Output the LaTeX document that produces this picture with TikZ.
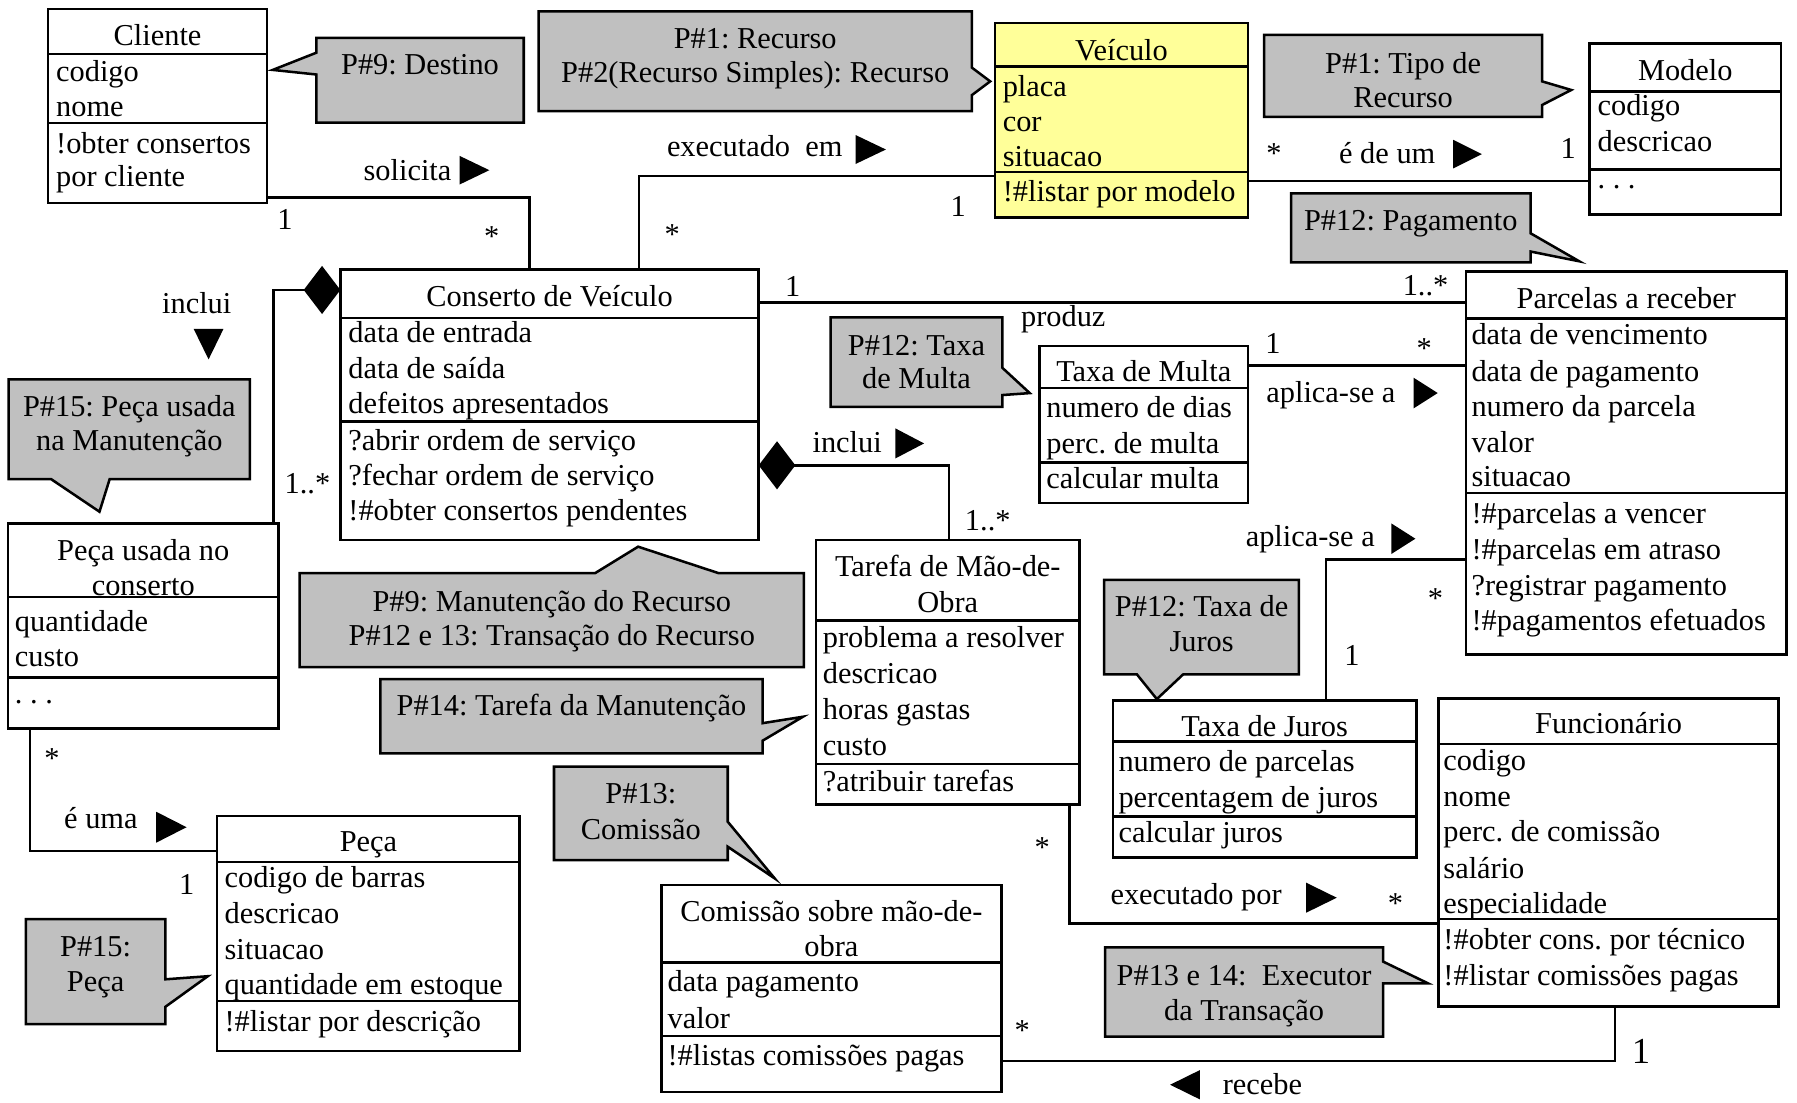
\documentclass[tikz,border=0pt]{standalone}
\usepackage{fontspec}
\setmainfont{Liberation Serif}
\usetikzlibrary{arrows.meta,calc}
\definecolor{notegray}{HTML}{C0C0C0}
\definecolor{classyellow}{HTML}{FFFF99}
\frenchspacing
\newcounter{lbln}
% one line of text, anchored on its baseline
\newcommand\tx[4][base west]{\stepcounter{lbln}\node[lbl,anchor=#1] (lbl\arabic{lbln}) at (#2,#3) {#4};}
% class box: options, name, left, top, width, height, divider 1, divider 2
\newcommand\umlclass[8][]{%
  \node[box,minimum width=#5pt,minimum height=#6pt,#1] (#2) at (#3,#4) {};
  \draw[rule] (#3,#7) -- ++(#5,0);
  \draw[rule] (#3,#8) -- ++(#5,0);
}
% direction markers of the association names: left, top, width, height
\newcommand\rtri[4]{\fill (#1,#2) -- (#1+#3,#2+#4/2) -- (#1,#2+#4) -- cycle;}
\newcommand\ltri[4]{\fill (#1+#3,#2) -- (#1,#2+#4/2) -- (#1+#3,#2+#4) -- cycle;}
\newcommand\dtri[4]{\fill (#1,#2) -- (#1+#3,#2) -- (#1+#3/2,#2+#4) -- cycle;}
\begin{document}
\begin{tikzpicture}[x=1pt,y=-1pt,
  box/.style={draw,line width=2.2pt,fill=white,inner sep=0pt,outer sep=0pt,anchor=north west},
  rule/.style={line width=2.2pt},
  link/.style={line width=2.2pt},
  agg/.style={link,{Diamond[length=32pt,width=42pt]}-},
  note/.style={draw,fill=notegray,line width=2.2pt,line join=miter},
  lbl/.style={inner sep=0pt,outer sep=0pt,yshift=-1.5pt,font=\fontsize{26.5}{31}\selectfont},
  biglbl/.style={lbl,font=\fontsize{32}{36}\selectfont},
]
\useasboundingbox (0,0) rectangle (1568,962);

% ---------- classes ----------
\umlclass{cliente}{42}{8}{191}{169}{47}{107.5}
\umlclass[fill=classyellow]{veiculo}{868}{20}{221}{170}{58}{150}
\umlclass{modelo}{1387}{38}{167}{149}{80}{148}
\umlclass{conserto}{297}{235}{365}{236}{277.5}{368}
\umlclass{parcelas}{1279}{237}{280}{334}{278}{430}
\umlclass{multa}{907}{302}{182}{137}{338.7}{403.7}
\umlclass{tarefa}{712}{471}{230}{231}{541.6}{666.7}
\umlclass{pecausada}{7}{457}{236}{178.5}{521}{591}
\umlclass{peca}{189.5}{712}{264}{205}{752}{873.5}
\umlclass{comissao}{577}{772}{297}{181}{840}{904}
\umlclass{juros}{971}{611}{265}{137}{647}{712.6}
\umlclass{func}{1255.3}{609.4}{296.7}{268.6}{649}{802}

% ---------- associations ----------
\draw[link] ($(cliente.north east)+(0,164.5)$) -| ($(conserto.north west)+(165,0)$);
\draw[link] ($(conserto.north west)+(260.6,0)$) |- ($(veiculo.north west)+(0,133.6)$);
\draw[link] ($(veiculo.north east)+(0,138)$) -- ($(modelo.north west)+(0,120)$);
\draw[link] ($(conserto.north east)+(0,29)$) -- ($(parcelas.north west)+(0,27)$);
\draw[link] ($(multa.north east)+(0,17)$) -- ($(parcelas.north west)+(0,82)$);
\draw[link] ($(juros.north west)+(186,0)$) |- ($(parcelas.north west)+(0,251)$);
\draw[agg] ($(conserto.north east)+(0,171)$) -| ($(tarefa.north west)+(116,0)$);
\draw[agg] ($(conserto.north west)+(0,18)$) -| ($(pecausada.north west)+(231.6,0)$);
\draw[link] ($(pecausada.south west)+(19,0)$) |- ($(peca.north west)+(0,30.6)$);
\draw[link] ($(tarefa.south west)+(221.3,0)$) |- ($(func.north west)+(0,196.6)$);
\draw[link] ($(comissao.north east)+(0,153.6)$) -| ($(func.south west)+(153.7,0)$);

% ---------- pattern notes ----------
\draw[note] (276,33) -- (457,33) -- (457,107) -- (276,107) -- (276,65) -- (238,61) -- (276,46) -- cycle;
\draw[note] (470,10) -- (848,10) -- (848,59) -- (864,71) -- (848,83) -- (848,97) -- (470,97) -- cycle;
\draw[note] (1103,30.5) -- (1345.6,30.5) -- (1345.6,71) -- (1371,78.5) -- (1345.6,91.6) -- (1345.6,102) -- (1103,102) -- cycle;
\draw[note] (1126.5,168.7) -- (1335.6,168.7) -- (1335.6,203.6) -- (1378,228) -- (1335.6,219.5) -- (1335.6,229) -- (1126.5,229) -- cycle;
\draw[note] (724.8,277) -- (874.7,277) -- (874.7,321) -- (898.5,343) -- (874.7,344.7) -- (874.7,355) -- (724.8,355) -- cycle;
\draw[note] (7.6,331) -- (218,331) -- (218,418) -- (95.7,418) -- (86.8,446.5) -- (44.5,418) -- (7.6,418) -- cycle;
\draw[note] (261.5,500) -- (519.4,500) -- (556.8,477) -- (626.7,500) -- (701.5,500) -- (701.5,582) -- (261.5,582) -- cycle;
\draw[note] (331.8,592.6) -- (665.4,592.6) -- (665.4,631) -- (700.6,625.4) -- (665.4,646.3) -- (665.4,657.3) -- (331.8,657.3) -- cycle;
\draw[note] (483.4,669) -- (635,669) -- (635,717) -- (676,766.5) -- (635,738.8) -- (635,750.5) -- (483.4,750.5) -- cycle;
\draw[note] (22.5,802) -- (144.3,802) -- (144.3,854.5) -- (181.3,851.8) -- (144.3,878.5) -- (144.3,893.6) -- (22.5,893.6) -- cycle;
\draw[note] (963.5,506) -- (1133.4,506) -- (1133.4,588.4) -- (1032.4,588.4) -- (1009.4,610) -- (992,588.4) -- (963.5,588.4) -- cycle;
\draw[note] (964.3,826.7) -- (1206.8,826.7) -- (1206.8,839) -- (1246,858) -- (1206.8,858) -- (1206.8,904.6) -- (964.3,904.6) -- cycle;

\tx[base]{366.5}{63.4}{P\#9: Destino}
\tx[base]{659}{40.7}{P\#1: Recurso}
\tx[base]{659}{70.4}{P\#2(Recurso Simples): Recurso}
\tx[base]{1224.3}{62.6}{P\#1: Tipo de}
\tx[base]{1224.3}{92.5}{Recurso}
\tx[base]{1231}{199.2}{P\#12: Pagamento}
\tx[base]{799.7}{308.9}{P\#12: Taxa}
\tx[base]{799.7}{337.4}{de Multa}
\tx[base]{112.8}{362}{P\#15: Peça usada}
\tx[base]{112.8}{392}{na Manutenção}
\tx[base]{481.5}{531.7}{P\#9: Manutenção do Recurso}
\tx[base]{481.5}{562}{P\#12 e 13: Transação do Recurso}
\tx[base]{498.6}{622.4}{P\#14: Tarefa da Manutenção}
\tx[base]{559.2}{699.5}{P\#13:}
\tx[base]{559.2}{730.6}{Comissão}
\tx[base]{83.4}{833.3}{P\#15:}
\tx[base]{83.4}{863.9}{Peça}
\tx[base]{1048.5}{536.6}{P\#12: Taxa de}
\tx[base]{1048.5}{567.2}{Juros}
\tx[base]{1085.5}{858}{P\#13 e 14:\ \ Executor}
\tx[base]{1085.5}{888.6}{da Transação}

% ---------- class contents ----------
\tx[base]{137.5}{37.8}{Cliente}
\tx{49}{69.8}{codigo}
\tx{49}{100.2}{nome}
\tx{49}{132}{!obter consertos}
\tx{49}{161.4}{por cliente}

\tx[base]{978.5}{50.9}{Veículo}
\tx{875}{82.3}{placa}
\tx{875}{113.4}{cor}
\tx{875}{144}{situacao}
\tx{875}{174.5}{!\#listar por modelo}

\tx[base]{1470.5}{68.4}{Modelo}
\tx{1394}{98.9}{codigo}
\tx{1394}{130.9}{descricao}
\tx{1394}{163}{. . .}

\tx[base]{479.5}{266}{Conserto de Veículo}
\tx{304}{297.3}{data de entrada}
\tx{304}{328.7}{data de saída}
\tx{304}{359.2}{defeitos apresentados}
\tx{304}{391.2}{?abrir ordem de serviço}
\tx{304}{421.7}{?fechar ordem de serviço}
\tx{304}{452.3}{!\#obter consertos pendentes}

\tx[base]{1419}{267.6}{Parcelas a receber}
\tx{1284}{299}{data de vencimento}
\tx{1284}{331}{data de pagamento}
\tx{1284}{362}{numero da parcela}
\tx{1284}{393.3}{valor}
\tx{1284}{423.2}{situacao}
\tx{1284}{455.2}{!\#parcelas a vencer}
\tx{1284}{486.3}{!\#parcelas em atraso}
\tx{1284}{517.7}{?registrar pagamento}
\tx{1284}{548.3}{!\#pagamentos efetuados}

\tx[base]{998}{331.6}{Taxa de Multa}
\tx{913}{363}{numero de dias}
\tx{913}{394.1}{perc. de multa}
\tx{913}{424.7}{calcular multa}

\tx[base]{827}{501.7}{Tarefa de Mão-de-}
\tx[base]{827}{533}{Obra}
\tx{718}{563.7}{problema a resolver}
\tx{718}{594.8}{descricao}
\tx{718}{626}{horas gastas}
\tx{718}{657.4}{custo}
\tx{718}{689.3}{?atribuir tarefas}

\tx[base]{125}{487.2}{Peça usada no}
\tx[base]{125}{518.3}{conserto}
\tx{13}{549.2}{quantidade}
\tx{13}{580.3}{custo}
\tx{13}{612.3}{. . .}

\tx[base]{321.5}{741.7}{Peça}
\tx{196}{773.1}{codigo de barras}
\tx{196}{804.2}{descricao}
\tx{196}{835.4}{situacao}
\tx{196}{866.2}{quantidade em estoque}
\tx{196}{898.2}{!\#listar por descrição}

\tx[base]{725.5}{802.8}{Comissão sobre mão-de-}
\tx[base]{725.5}{833.3}{obra}
\tx{582.5}{863.9}{data pagamento}
\tx{582.5}{895.9}{valor}
\tx{582.5}{927.9}{!\#listas comissões pagas}

\tx[base]{1103.5}{641.4}{Taxa de Juros}
\tx{976}{671.9}{numero de parcelas}
\tx{976}{703}{percentagem de juros}
\tx{976}{733.6}{calcular juros}

\tx[base]{1403.6}{638.5}{Funcionário}
\tx{1259.5}{670.4}{codigo}
\tx{1259.5}{701.9}{nome}
\tx{1259.5}{733}{perc. de comissão}
\tx{1259.5}{765}{salário}
\tx{1259.5}{795.5}{especialidade}
\tx{1259.5}{826.7}{!\#obter cons. por técnico}
\tx{1259.5}{858}{!\#listar comissões pagas}

% ---------- association names and multiplicities ----------
\tx{317.3}{155.6}{solicita}  \rtri{401}{136}{26}{25}
\tx{242}{198.7}{1}
\tx{422.5}{214}{*}
\tx{582}{135.3}{executado\ \ em}  \rtri{746.5}{117.8}{26.5}{25.3}
\tx{580}{212}{*}
\tx{829.5}{187}{1}
\tx{685}{257.4}{1}
\tx{1105}{141.4}{*}
\tx{1168.5}{141}{é de um}  \rtri{1268}{122}{25}{25}
\tx{1361.8}{136.7}{1}
\tx{1224}{256}{1..*}
\tx{891}{283.6}{produz}
\tx{1104}{306.9}{1}
\tx{1236}{311.6}{*}
\tx{1105}{349.6}{aplica-se a}  \rtri{1233.5}{329.6}{21}{26.7}
\tx{709}{393.3}{inclui}  \rtri{781.3}{373.8}{25}{26.2}
\tx{842}{461}{1..*}
\tx{1087}{475.6}{aplica-se a}  \rtri{1214}{456.7}{21}{26.7}
\tx{1246}{529.7}{*}
\tx{1173}{578.8}{1}
\tx{141.5}{272}{inclui}  \dtri{169}{287}{26}{26.6}
\tx{248.4}{429}{1..*}
\tx{38.8}{669.4}{*}
\tx{56}{721.3}{é uma}  \rtri{136.3}{708.3}{26.5}{27}
\tx{156.3}{779}{1}
\tx{902.7}{746.4}{*}
\tx{969}{787.7}{executado por}  \rtri{1139.7}{770.2}{26.7}{26.2}
\tx{1211}{795.9}{*}
\tx{885.4}{906.4}{*}
\stepcounter{lbln}\node[biglbl,anchor=base west] (lbl\arabic{lbln}) at (1423.8,926.4) {1};
\tx{1067}{953.5}{recebe}  \ltri{1021}{933.7}{26}{25.6}
\end{tikzpicture}
\end{document}
